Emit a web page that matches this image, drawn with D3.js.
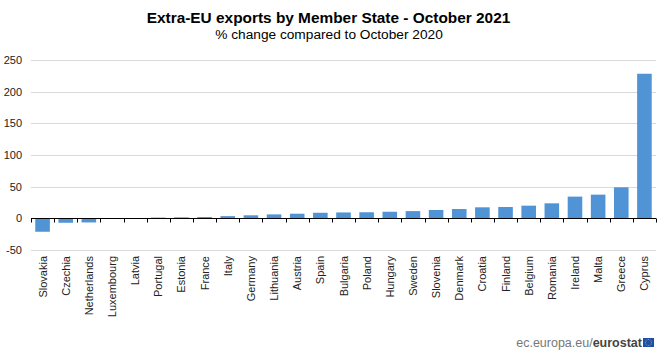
<!DOCTYPE html>
<html><head><meta charset="utf-8">
<script src="https://cdn.jsdelivr.net/npm/d3@7"></script>
<style>body{margin:0;background:#fff}svg{display:block;font-family:"Liberation Sans",Arial,sans-serif}</style>
</head><body><svg id="c" width="657" height="361"></svg>
<script>
const categories = ["Slovakia","Czechia","Netherlands","Luxembourg","Latvia","Portugal","Estonia","France","Italy","Germany","Lithuania","Austria","Spain","Bulgaria","Poland","Hungary","Sweden","Slovenia","Denmark","Croatia","Finland","Belgium","Romania","Ireland","Malta","Greece","Cyprus"];
const values = [-21.2,-7.0,-6.5,0.2,0.3,1.2,1.6,2.1,3.5,4.8,6.2,7.3,8.8,9.3,9.6,10.4,11.4,13.2,14.7,17.4,17.9,20.0,23.7,34.3,37.4,49.0,228.3];
const yTicks = [-50,0,50,100,150,200,250];
const title = "Extra-EU exports by Member State - October 2021";
const subtitle = "% change compared to October 2020";

const svg = d3.select("#c");
const L = 31, R = 656, T = 60, B = 250;
const x = d3.scaleBand().domain(categories).range([L, R]).paddingInner(0.37).paddingOuter(0.185);
const y = d3.scaleLinear().domain([-50, 250]).range([B, T]);

svg.append("text").attr("x", 328.5).attr("y", 23).attr("text-anchor","middle")
  .attr("font-weight","bold").attr("font-size",15.4).attr("fill","#000").text(title);
svg.append("text").attr("x", 329).attr("y", 39).attr("text-anchor","middle")
  .attr("font-size",13.7).attr("fill","#000").text(subtitle);

// gridlines
svg.append("g").selectAll("line").data(yTicks.filter(d=>d!==0)).join("line")
  .attr("x1", L).attr("x2", R).attr("y1", d=>Math.round(y(d))+0.5).attr("y2", d=>Math.round(y(d))+0.5)
  .attr("stroke","#d9d9d9").attr("stroke-width",1);

// y labels
svg.append("g").selectAll("text").data(yTicks).join("text")
  .attr("x", 22).attr("y", d=>y(d)+4).attr("text-anchor","end")
  .attr("font-size",11).attr("fill","#222").text(d=>d);

// bars
svg.append("g").selectAll("rect").data(values).join("rect")
  .attr("x", (d,i)=>x(categories[i])).attr("width", x.bandwidth())
  .attr("y", d=>y(Math.max(0,d))).attr("height", d=>Math.abs(y(d)-y(0)))
  .attr("fill","#5094d5");

// zero axis
const y0 = Math.round(y(0))+0.5;
svg.append("line").attr("x1",L).attr("x2",R).attr("y1",y0).attr("y2",y0).attr("stroke","#000").attr("stroke-width",1.2);
const step = x.step();
const bounds = d3.range(categories.length+1).map(k => L + k*step);
svg.append("g").selectAll("line").data(bounds).join("line")
  .attr("x1", d=>Math.round(d)+0.5).attr("x2", d=>Math.round(d)+0.5).attr("y1", y0).attr("y2", y0+4)
  .attr("stroke","#000").attr("stroke-width",1);

// category labels
svg.append("g").selectAll("text").data(categories).join("text")
  .attr("transform", d=>`translate(${x(d)+x.bandwidth()/2+4},256) rotate(-90)`)
  .attr("text-anchor","end").attr("font-size",11).attr("fill","#222").text(d=>d);

// footer
const ft = svg.append("text").attr("x", 642).attr("y", 347).attr("text-anchor","end").attr("font-size",12.5);
ft.append("tspan").attr("fill","#777").text("ec.europa.eu/");
ft.append("tspan").attr("fill","#444").attr("font-weight","bold").text("eurostat");
svg.append("rect").attr("x",643).attr("y",338).attr("width",11).attr("height",9).attr("fill","#1f4ea8");
svg.append("g").selectAll("circle").data(d3.range(12)).join("circle")
  .attr("cx", d=>648.5+3*Math.cos(d*Math.PI/6)).attr("cy", d=>342.5+3*Math.sin(d*Math.PI/6))
  .attr("r",0.45).attr("fill","#f5d300");
</script></body></html>
